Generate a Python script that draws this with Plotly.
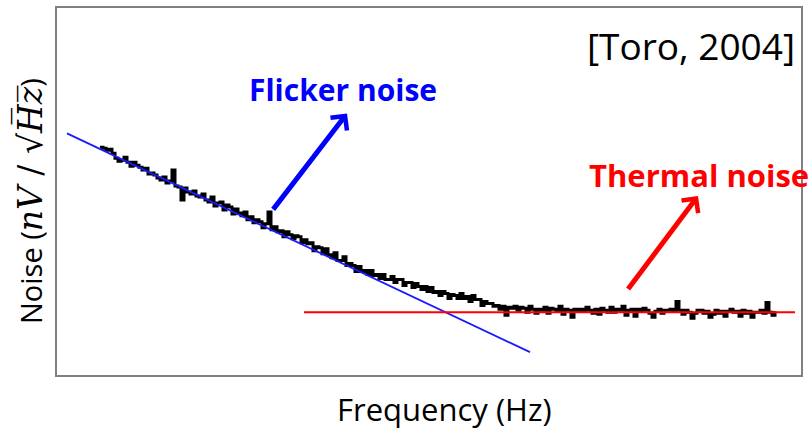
import numpy as np
import plotly.graph_objects as go

# Frequency sampling (arbitrary units) and measured noise (nV/sqrt(Hz), arbitrary units)
freq_start, freq_step = 4.3, 0.3
noise = [
    22.9, 22.8, 22.6, 22.7, 22.3, 21.8, 21.5, 21.6, 21.9, 21.4,
    21.0, 21.4, 21.1, 20.9, 20.6, 20.8, 20.2, 20.3, 20.1, 19.8,
    19.6, 19.9, 19.3, 19.5, 20.6, 19.0, 18.9, 17.6, 18.8, 18.4,
    18.2, 18.5, 18.0, 17.9, 18.2, 17.6, 17.4, 17.9, 17.0, 17.3,
    17.4, 16.6, 17.1, 16.9, 16.2, 16.7, 16.3, 16.0, 16.4, 15.6,
    15.9, 15.3, 15.6, 15.4, 14.8, 15.2, 16.4, 14.6, 14.9, 14.4,
    14.5, 13.9, 14.4, 14.1, 13.7, 14.0, 13.9, 13.3, 13.6, 13.2,
    13.3, 12.5, 12.9, 12.8, 12.2, 12.7, 12.1, 11.8, 12.3, 11.5,
    11.5, 11.9, 11.0, 11.2, 11.0, 10.4, 10.9, 10.4, 10.5, 10.1,
    10.5, 10.0, 10.1, 9.7, 10.1, 9.6, 9.6, 9.9, 9.3, 9.6,
    9.6, 9.0, 9.3, 9.3, 8.8, 9.2, 8.9, 8.6, 8.9, 8.4,
    8.8, 8.3, 8.4, 8.0, 8.4, 8.2, 7.7, 8.1, 8.0, 7.7,
    8.2, 7.7, 7.9, 7.4, 8.0, 7.6, 7.6, 7.0, 7.4, 7.2,
    7.2, 6.9, 7.0, 6.6, 6.9, 6.0, 6.8, 6.7, 6.9, 6.5,
    6.8, 6.7, 6.3, 6.9, 6.6, 6.2, 6.6, 6.5, 6.8, 6.2,
    6.7, 6.6, 6.4, 6.9, 6.1, 6.6, 6.5, 5.8, 6.6, 6.4,
    6.6, 6.4, 6.8, 6.5, 6.2, 6.6, 6.1, 6.7, 6.5, 6.3,
    6.8, 6.3, 6.6, 6.5, 6.9, 6.0, 6.5, 6.6, 5.9, 6.6,
    6.4, 6.7, 6.5, 6.2, 5.8, 6.4, 6.6, 6.2, 6.5, 6.5,
    6.6, 6.4, 7.4, 6.5, 6.1, 6.5, 6.3, 5.7, 6.2, 6.5,
    6.5, 6.2, 6.4, 5.8, 6.1, 6.5, 6.2, 6.4, 5.9, 6.4,
    6.6, 6.3, 6.4, 5.9, 6.5, 6.2, 6.4, 5.8, 6.3, 6.3,
    6.5, 6.2, 7.3, 6.3, 6.0, 6.4,
]
freq = freq_start + freq_step * np.arange(len(noise))

# Fitted lines
flicker_x = [1.0, 47.3]
flicker_y = [24.3, 2.3]
thermal_x = [24.7, 73.8]
thermal_y = [6.3, 6.3]

x_range = [0, 74.4]
y_range = [0, 36.9]

FONT = "Open Sans"

fig = go.Figure()
fig.add_trace(go.Scatter(x=freq, y=noise, mode="lines", line=dict(color="black", width=3, shape="hv"),
                         showlegend=False, hoverinfo="skip"))
fig.add_trace(go.Scatter(x=flicker_x, y=flicker_y, mode="lines", line=dict(color="#1a1aff", width=1.8),
                         showlegend=False))
fig.add_trace(go.Scatter(x=thermal_x, y=thermal_y, mode="lines", line=dict(color="#ff0000", width=2),
                         showlegend=False))

# Arrows
fig.add_annotation(x=29.0, y=26.3, ax=21.5, ay=16.5, xref="x", yref="y", axref="x", ayref="y",
                   showarrow=True, arrowhead=4, arrowsize=0.8, arrowwidth=5, arrowcolor="#0000ff", text="")
fig.add_annotation(x=64.1, y=18.0, ax=57.0, ay=8.5, xref="x", yref="y", axref="x", ayref="y",
                   showarrow=True, arrowhead=4, arrowsize=0.8, arrowwidth=5, arrowcolor="#ff0000", text="")

# Labels
fig.add_annotation(x=28.6, y=28.7, xref="x", yref="y", text="<b>Flicker noise</b>", showarrow=False,
                   xanchor="center", yanchor="middle",
                   font=dict(family=FONT, size=30, color="#0000ff"))
fig.add_annotation(x=64.2, y=20.1, xref="x", yref="y", text="<b>Thermal noise</b>", showarrow=False,
                   xanchor="center", yanchor="middle",
                   font=dict(family=FONT, size=31, color="#ff0000"))
fig.add_annotation(x=74.0, y=33.1, xref="x", yref="y", text="[Toro, 2004]", showarrow=False,
                   xanchor="right", yanchor="middle", font=dict(family=FONT, size=37, color="black"))

# Axis titles
fig.add_annotation(x=0.5215, y=-0.0921, xref="paper", yref="paper", text="Frequency (Hz)", showarrow=False,
                   xanchor="center", yanchor="middle",
                   font=dict(family=FONT, size=31, color="black"))
fig.add_annotation(x=-0.0363, y=0.474, xref="paper", yref="paper", textangle=-90, showarrow=False,
                   xanchor="center", yanchor="middle",
                   text="Noise (<span style='font-family:DejaVu Serif;font-size:33px'><i>nV</i> / √<i>H̅z̅</i></span>)",
                   font=dict(family=FONT, size=29, color="black"))

fig.update_xaxes(range=x_range, showline=True, mirror=True, linecolor="#808080", linewidth=1.5,
                 showticklabels=False, ticks="", showgrid=False, zeroline=False)
fig.update_yaxes(range=y_range, showline=True, mirror=True, linecolor="#808080", linewidth=1.5,
                 showticklabels=False, ticks="", showgrid=False, zeroline=False)
fig.update_layout(width=812, height=431, margin=dict(l=57, r=11, t=6, b=56),
                  paper_bgcolor="white", plot_bgcolor="white")

fig.write_html("out.html")
